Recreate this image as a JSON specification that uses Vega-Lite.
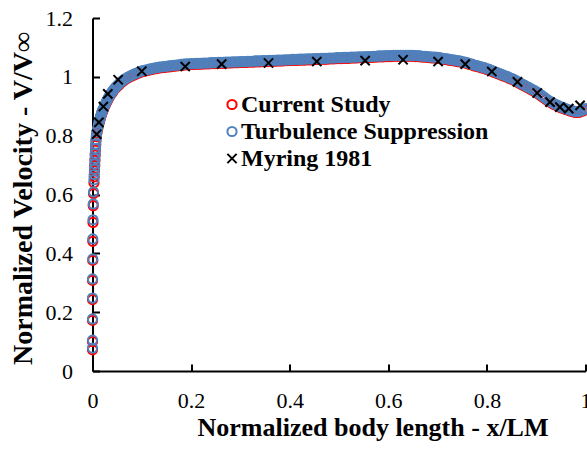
{
"$schema": "https://vega.github.io/schema/vega-lite/v6.json",
"width": 493, "height": 353,
"autosize": {"type": "none"},
"padding": {"left": 92.5, "top": 18, "right": 1.5, "bottom": 81},
"background": "white",
"config": {"view": {"stroke": null}, "font": "Liberation Serif"},
"datasets": {
"cfd": [
{"x":0,"c":0.072,"t":0.078},{"x":0,"c":0.100,"t":0.105},{"x":0,"c":0.172,"t":0.177},{"x":0,"c":0.243,"t":0.248},{"x":0,"c":0.308,"t":0.313},
{"x":0.0005,"c":0.376,"t":0.381},{"x":0.0005,"c":0.441,"t":0.449},{"x":0.001,"c":0.505,"t":0.514},{"x":0.0015,"c":0.562,"t":0.568},{"x":0.002,"c":0.603,"t":0.609},
{"x":0.003,"c":0.640,"t":0.650},{"x":0.0035,"c":0.660,"t":0.668},{"x":0.004,"c":0.680,"t":0.686},{"x":0.0045,"c":0.698,"t":0.704},{"x":0.005,"c":0.716,"t":0.722},
{"x":0.0055,"c":0.734,"t":0.739},{"x":0.006,"c":0.751,"t":0.756},{"x":0.0065,"c":0.767,"t":0.772},{"x":0.007,"c":0.782,"t":0.787},{"x":0.008,"c":0.797,"t":0.801},
{"x":0.009,"c":0.809,"t":0.813},{"x":0.0105,"c":0.822,"t":0.825},
{"x":0.012,"c":0.833,"t":0.836},{"x":0.013,"c":0.841,"t":0.844},{"x":0.014,"c":0.848,"t":0.851},{"x":0.015,"c":0.854,"t":0.857},{"x":0.016,"c":0.860,"t":0.863},
{"x":0.017,"c":0.866,"t":0.869},{"x":0.018,"c":0.871,"t":0.874},{"x":0.019,"c":0.876,"t":0.879},{"x":0.020,"c":0.881,"t":0.884},{"x":0.021,"c":0.885,"t":0.888},
{"x":0.022,"c":0.889,"t":0.892},{"x":0.024,"c":0.897,"t":0.900},{"x":0.026,"c":0.905,"t":0.908},{"x":0.028,"c":0.912,"t":0.915},{"x":0.030,"c":0.919,"t":0.922},
{"x":0.032,"c":0.925,"t":0.928},{"x":0.034,"c":0.931,"t":0.934},{"x":0.036,"c":0.937,"t":0.940},{"x":0.038,"c":0.942,"t":0.945},{"x":0.040,"c":0.947,"t":0.950},
{"x":0.043,"c":0.954,"t":0.957},{"x":0.046,"c":0.960,"t":0.963},{"x":0.049,"c":0.965,"t":0.968},{"x":0.052,"c":0.970,"t":0.973},{"x":0.055,"c":0.975,"t":0.978},
{"x":0.058,"c":0.980,"t":0.983},{"x":0.061,"c":0.984,"t":0.987},{"x":0.065,"c":0.989,"t":0.992},{"x":0.070,"c":0.994,"t":0.997},{"x":0.075,"c":0.999,"t":1.002},
{"x":0.080,"c":1.003,"t":1.006},{"x":0.085,"c":1.007,"t":1.010},{"x":0.090,"c":1.010,"t":1.013},{"x":0.095,"c":1.014,"t":1.017},{"x":0.100,"c":1.017,"t":1.020},
{"x":0.105,"c":1.019,"t":1.022},{"x":0.11,"c":1.021,"t":1.024},{"x":0.115,"c":1.023,"t":1.026},{"x":0.12,"c":1.025,"t":1.028},{"x":0.125,"c":1.027,"t":1.030},
{"x":0.13,"c":1.028,"t":1.031},{"x":0.135,"c":1.030,"t":1.033},{"x":0.14,"c":1.031,"t":1.034},{"x":0.145,"c":1.032,"t":1.035},{"x":0.15,"c":1.033,"t":1.036},
{"x":0.155,"c":1.034,"t":1.037},{"x":0.16,"c":1.035,"t":1.038},{"x":0.165,"c":1.036,"t":1.039},{"x":0.17,"c":1.037,"t":1.040},{"x":0.175,"c":1.038,"t":1.041},
{"x":0.18,"c":1.039,"t":1.042},{"x":0.185,"c":1.040,"t":1.043},{"x":0.19,"c":1.041,"t":1.044},{"x":0.195,"c":1.041,"t":1.044},{"x":0.2,"c":1.042,"t":1.045},
{"x":0.205,"c":1.042,"t":1.045},{"x":0.21,"c":1.043,"t":1.046},{"x":0.215,"c":1.043,"t":1.046},{"x":0.22,"c":1.043,"t":1.046},{"x":0.225,"c":1.044,"t":1.047},
{"x":0.23,"c":1.044,"t":1.047},{"x":0.235,"c":1.044,"t":1.047},{"x":0.24,"c":1.045,"t":1.048},{"x":0.245,"c":1.045,"t":1.048},{"x":0.25,"c":1.045,"t":1.048},
{"x":0.255,"c":1.046,"t":1.049},{"x":0.26,"c":1.046,"t":1.049},{"x":0.265,"c":1.046,"t":1.049},{"x":0.27,"c":1.047,"t":1.050},{"x":0.275,"c":1.047,"t":1.050},
{"x":0.28,"c":1.047,"t":1.050},{"x":0.285,"c":1.048,"t":1.051},{"x":0.29,"c":1.048,"t":1.051},{"x":0.295,"c":1.048,"t":1.051},{"x":0.3,"c":1.049,"t":1.052},
{"x":0.305,"c":1.049,"t":1.052},{"x":0.31,"c":1.049,"t":1.052},{"x":0.315,"c":1.050,"t":1.053},{"x":0.32,"c":1.050,"t":1.053},{"x":0.325,"c":1.050,"t":1.053},
{"x":0.33,"c":1.051,"t":1.054},{"x":0.335,"c":1.051,"t":1.054},{"x":0.34,"c":1.051,"t":1.054},{"x":0.345,"c":1.052,"t":1.055},{"x":0.35,"c":1.052,"t":1.055},
{"x":0.355,"c":1.052,"t":1.055},{"x":0.36,"c":1.053,"t":1.056},{"x":0.365,"c":1.053,"t":1.056},{"x":0.37,"c":1.053,"t":1.056},{"x":0.375,"c":1.054,"t":1.057},
{"x":0.38,"c":1.054,"t":1.057},{"x":0.385,"c":1.054,"t":1.057},{"x":0.39,"c":1.055,"t":1.058},{"x":0.395,"c":1.055,"t":1.058},{"x":0.4,"c":1.055,"t":1.058},
{"x":0.405,"c":1.056,"t":1.059},{"x":0.41,"c":1.056,"t":1.059},{"x":0.415,"c":1.056,"t":1.059},{"x":0.42,"c":1.057,"t":1.060},{"x":0.425,"c":1.057,"t":1.060},
{"x":0.43,"c":1.057,"t":1.060},{"x":0.435,"c":1.058,"t":1.061},{"x":0.44,"c":1.058,"t":1.061},{"x":0.445,"c":1.058,"t":1.061},{"x":0.45,"c":1.059,"t":1.062},
{"x":0.455,"c":1.059,"t":1.062},{"x":0.46,"c":1.059,"t":1.062},{"x":0.465,"c":1.060,"t":1.063},{"x":0.47,"c":1.060,"t":1.063},{"x":0.475,"c":1.060,"t":1.063},
{"x":0.48,"c":1.061,"t":1.064},{"x":0.485,"c":1.061,"t":1.064},{"x":0.49,"c":1.061,"t":1.064},{"x":0.495,"c":1.062,"t":1.065},{"x":0.5,"c":1.062,"t":1.065},
{"x":0.505,"c":1.062,"t":1.065},{"x":0.51,"c":1.063,"t":1.066},{"x":0.515,"c":1.063,"t":1.066},{"x":0.52,"c":1.063,"t":1.066},{"x":0.525,"c":1.064,"t":1.067},
{"x":0.53,"c":1.064,"t":1.067},{"x":0.535,"c":1.064,"t":1.067},{"x":0.54,"c":1.065,"t":1.068},{"x":0.545,"c":1.065,"t":1.068},{"x":0.55,"c":1.065,"t":1.068},
{"x":0.555,"c":1.066,"t":1.069},{"x":0.56,"c":1.066,"t":1.069},{"x":0.565,"c":1.066,"t":1.069},{"x":0.57,"c":1.067,"t":1.070},{"x":0.575,"c":1.067,"t":1.070},
{"x":0.58,"c":1.068,"t":1.071},{"x":0.585,"c":1.068,"t":1.071},{"x":0.59,"c":1.068,"t":1.071},{"x":0.595,"c":1.069,"t":1.072},{"x":0.6,"c":1.069,"t":1.072},
{"x":0.605,"c":1.069,"t":1.072},{"x":0.61,"c":1.070,"t":1.073},{"x":0.615,"c":1.070,"t":1.073},{"x":0.62,"c":1.070,"t":1.073},{"x":0.625,"c":1.070,"t":1.073},
{"x":0.63,"c":1.070,"t":1.073},{"x":0.635,"c":1.070,"t":1.073},{"x":0.64,"c":1.070,"t":1.073},{"x":0.645,"c":1.070,"t":1.073},{"x":0.65,"c":1.070,"t":1.073},
{"x":0.655,"c":1.069,"t":1.072},{"x":0.66,"c":1.069,"t":1.072},{"x":0.665,"c":1.068,"t":1.071},{"x":0.67,"c":1.067,"t":1.070},{"x":0.675,"c":1.067,"t":1.070},
{"x":0.68,"c":1.066,"t":1.069},{"x":0.685,"c":1.065,"t":1.068},{"x":0.69,"c":1.064,"t":1.067},{"x":0.695,"c":1.064,"t":1.067},{"x":0.7,"c":1.063,"t":1.066},
{"x":0.705,"c":1.062,"t":1.065},{"x":0.71,"c":1.060,"t":1.063},{"x":0.715,"c":1.059,"t":1.062},{"x":0.72,"c":1.058,"t":1.061},{"x":0.725,"c":1.056,"t":1.059},
{"x":0.73,"c":1.055,"t":1.058},{"x":0.735,"c":1.054,"t":1.057},{"x":0.74,"c":1.052,"t":1.055},{"x":0.745,"c":1.051,"t":1.054},{"x":0.75,"c":1.049,"t":1.052},
{"x":0.755,"c":1.047,"t":1.050},{"x":0.76,"c":1.045,"t":1.048},{"x":0.765,"c":1.042,"t":1.045},{"x":0.77,"c":1.040,"t":1.043},{"x":0.775,"c":1.037,"t":1.040},
{"x":0.78,"c":1.035,"t":1.038},{"x":0.785,"c":1.033,"t":1.036},{"x":0.79,"c":1.030,"t":1.033},{"x":0.795,"c":1.028,"t":1.031},{"x":0.8,"c":1.025,"t":1.028},
{"x":0.805,"c":1.022,"t":1.025},{"x":0.81,"c":1.019,"t":1.022},{"x":0.815,"c":1.015,"t":1.018},{"x":0.82,"c":1.012,"t":1.015},{"x":0.825,"c":1.009,"t":1.012},
{"x":0.83,"c":1.005,"t":1.008},{"x":0.835,"c":1.002,"t":1.005},{"x":0.84,"c":0.999,"t":1.002},{"x":0.845,"c":0.995,"t":0.998},{"x":0.85,"c":0.992,"t":0.995},
{"x":0.855,"c":0.988,"t":0.991},{"x":0.86,"c":0.983,"t":0.986},{"x":0.865,"c":0.979,"t":0.982},{"x":0.87,"c":0.974,"t":0.977},{"x":0.875,"c":0.970,"t":0.973},
{"x":0.88,"c":0.965,"t":0.968},{"x":0.885,"c":0.961,"t":0.964},{"x":0.89,"c":0.956,"t":0.959},{"x":0.895,"c":0.952,"t":0.955},{"x":0.9,"c":0.947,"t":0.950},
{"x":0.905,"c":0.941,"t":0.944},{"x":0.91,"c":0.935,"t":0.938},{"x":0.915,"c":0.929,"t":0.932},{"x":0.92,"c":0.923,"t":0.926},{"x":0.925,"c":0.917,"t":0.920},
{"x":0.93,"c":0.912,"t":0.915},{"x":0.935,"c":0.907,"t":0.910},{"x":0.94,"c":0.903,"t":0.906},{"x":0.945,"c":0.899,"t":0.902},{"x":0.95,"c":0.895,"t":0.898},
{"x":0.955,"c":0.892,"t":0.895},{"x":0.96,"c":0.889,"t":0.892},{"x":0.965,"c":0.886,"t":0.889},{"x":0.97,"c":0.883,"t":0.886},{"x":0.975,"c":0.881,"t":0.884},
{"x":0.98,"c":0.879,"t":0.882},{"x":0.985,"c":0.879,"t":0.882},{"x":0.99,"c":0.881,"t":0.884},{"x":0.995,"c":0.884,"t":0.887},{"x":1.0,"c":0.889,"t":0.892}
],
"myring": [
{"x":0.0085,"m":0.805},{"x":0.013,"m":0.845},{"x":0.022,"m":0.899},{"x":0.031,"m":0.942},{"x":0.052,"m":0.99},{"x":0.1,"m":1.019},
{"x":0.188,"m":1.035},{"x":0.262,"m":1.043},{"x":0.357,"m":1.047},{"x":0.455,"m":1.052},{"x":0.553,"m":1.055},{"x":0.63,"m":1.058},
{"x":0.701,"m":1.052},{"x":0.756,"m":1.043},{"x":0.81,"m":1.018},{"x":0.862,"m":0.983},{"x":0.902,"m":0.945},{"x":0.928,"m":0.914},
{"x":0.948,"m":0.897},{"x":0.966,"m":0.892},{"x":0.989,"m":0.903}
]
},
"encoding": {
  "x": {"field": "x", "type": "quantitative",
    "scale": {"domain": [0, 1], "nice": false},
    "axis": {"values": [0, 0.2, 0.4, 0.6, 0.8, 1], "format": "~g", "grid": false, "labelFlush": false,
      "domainColor": "black", "domainWidth": 2, "tickColor": "black", "tickWidth": 2, "tickSize": -7,
      "labelFont": "Liberation Serif", "labelFontSize": 22, "labelColor": "black", "labelPadding": 26,
      "title": "Normalized body length - x/LM", "titleFont": "Liberation Serif", "titleFontSize": 26,
      "titleFontWeight": "bold", "titleColor": "black", "titleX": 280, "titleY": 64, "titleBaseline": "alphabetic"}},
  "y": {"field": "y", "type": "quantitative",
    "scale": {"domain": [0, 1.2], "nice": false},
    "axis": {"values": [0, 0.2, 0.4, 0.6, 0.8, 1, 1.2], "format": "~g", "grid": false,
      "domainColor": "black", "domainWidth": 2, "tickColor": "black", "tickWidth": 2, "tickSize": -7,
      "labelFont": "Liberation Serif", "labelFontSize": 22, "labelColor": "black", "labelPadding": 27,
      "title": "Normalized Velocity - V/V∞", "titleFont": "Liberation Serif", "titleFontSize": 28,
      "titleFontWeight": "bold", "titleColor": "black", "titleX": -55, "titleY": 180}},
  "color": {"field": "s", "type": "nominal",
    "scale": {"domain": ["c", "t", "m"], "range": ["#ff0000", "#4f81bd", "#000000"]},
    "legend": {"title": null, "orient": "none", "legendX": 127.5, "legendY": 74.5, "padding": 0,
      "labelExpr": "datum.value == 'c' ? 'Current Study' : datum.value == 't' ? 'Turbulence Suppression' : 'Myring 1981'",
      "labelFont": "Liberation Serif", "labelFontSize": 24, "labelFontWeight": "bold", "labelColor": "black",
      "labelOffset": -3, "rowPadding": 3, "symbolSize": 85, "symbolStrokeWidth": 2, "labelLimit": 400}},
  "shape": {"field": "s", "type": "nominal",
    "scale": {"domain": ["c", "t", "m"], "range": ["circle", "circle", "M-1,-1L1,1M1,-1L-1,1"]}},
  "order": {"field": "s", "type": "nominal"}
},
"layer": [
  {"data": {"name": "cfd"}, "transform": [{"fold": ["c", "t"], "as": ["s", "y"]}],
   "mark": {"type": "point", "filled": false, "size": 85, "strokeWidth": 2, "opacity": 1}},
  {"data": {"name": "myring"}, "transform": [{"fold": ["m"], "as": ["s", "y"]}],
   "mark": {"type": "point", "filled": false, "size": 85, "strokeWidth": 2, "opacity": 1}}
]
}
